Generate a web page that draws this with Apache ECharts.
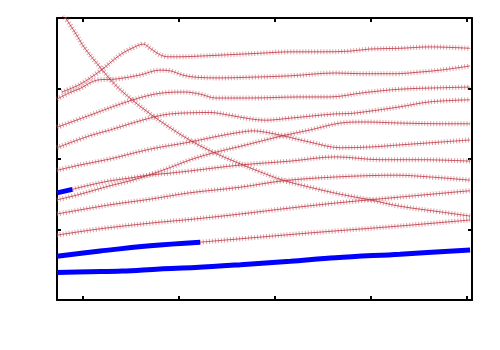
<!DOCTYPE html>
<html><head><meta charset="utf-8">
<script src="https://cdn.jsdelivr.net/npm/echarts@6/dist/echarts.min.js"></script>
<style>html,body{margin:0;padding:0;background:#fff}#c{width:500px;height:350px}</style>
</head><body><div id="c"></div>
<script>
// tick positions (path units) and energy ticks
const xTicks = [0, 1, 2, 3, 4];
const yTickStep = 1;

// bands: [k, E] pairs
const bandA = [[-0.22,2.95],[-0.03,3.06],[0.18,3.25],[0.39,3.48],[0.54,3.59],[0.63,3.63],[0.70,3.57],[0.80,3.48],[0.89,3.45],[1.01,3.45],[1.22,3.46],[1.53,3.48],[1.84,3.50],[2.16,3.52],[2.47,3.52],[2.78,3.53],[2.99,3.56],[3.30,3.57],[3.61,3.59],[4.03,3.57]];
const bandB = [[-0.27,2.85],[-0.14,2.94],[-0.03,3.00],[0.15,3.12],[0.35,3.135],[0.59,3.19],[0.80,3.26],[0.91,3.25],[1.04,3.19],[1.17,3.16],[1.43,3.15],[1.74,3.16],[2.16,3.18],[2.63,3.22],[2.89,3.21],[3.27,3.21],[3.48,3.23],[3.72,3.26],[4.03,3.32]];
const bandC = [[-0.27,2.45],[0.07,2.62],[0.39,2.78],[0.65,2.89],[0.85,2.94],[1.06,2.95],[1.22,2.92],[1.38,2.865],[1.74,2.865],[2.26,2.88],[2.57,2.88],[2.92,2.94],[3.30,2.99],[3.72,3.01],[4.03,3.02]];
const bandD = [[-0.27,2.16],[0.07,2.33],[0.28,2.41],[0.49,2.50],[0.75,2.60],[0.91,2.64],[1.11,2.655],[1.32,2.66],[1.53,2.62],[1.74,2.57],[1.90,2.55],[2.16,2.58],[2.63,2.64],[2.78,2.645],[2.94,2.67],[3.30,2.74],[3.61,2.81],[4.03,2.84]];
const bandE = [[-0.20,4.04],[-0.08,3.79],[0.02,3.57],[0.18,3.30],[0.33,3.06],[0.51,2.84],[0.70,2.64],[0.91,2.44],[1.11,2.27],[1.35,2.10],[1.64,1.93],[1.84,1.82],[2.08,1.70],[2.36,1.60],[2.68,1.50],[2.99,1.42],[3.30,1.33],[3.72,1.25],[4.03,1.19]];
const bandF = [[-0.27,1.84],[-0.03,1.915],[0.28,2.00],[0.70,2.14],[1.11,2.24],[1.43,2.33],[1.64,2.38],[1.77,2.40],[1.90,2.38],[2.08,2.33],[2.36,2.24],[2.68,2.16],[2.99,2.17],[3.30,2.20],[3.72,2.24],[4.03,2.27]];
const bandG = [[-0.27,1.52],[-0.11,1.57],[0.07,1.63],[0.28,1.69],[0.49,1.73],[0.68,1.77],[0.91,1.80],[1.11,1.83],[1.64,1.915],[2.16,1.97],[2.63,2.03],[3.09,1.99],[3.51,1.99],[4.03,1.97]];
const bandH = [[-0.27,1.42],[-0.03,1.50],[0.28,1.62],[0.49,1.69],[0.68,1.77],[0.91,1.88],[1.11,1.985],[1.35,2.085],[1.64,2.18],[2.08,2.33],[2.36,2.41],[2.68,2.51],[2.92,2.525],[3.30,2.51],[3.72,2.50],[4.03,2.50]];
const bandI = [[-0.27,1.22],[0.28,1.35],[0.70,1.43],[1.11,1.52],[1.64,1.60],[2.08,1.69],[2.63,1.745],[3.27,1.77],[3.61,1.745],[4.03,1.70]];
const bandJ = [[-0.27,0.92],[0.18,1.01],[0.70,1.09],[1.17,1.15],[1.64,1.22],[2.16,1.305],[2.63,1.375],[3.30,1.46],[4.03,1.55]];
const bandK = [[-0.27,0.62],[0.18,0.695],[0.70,0.77],[1.22,0.82],[1.74,0.88],[2.26,0.94],[2.63,0.98],[3.30,1.05],[4.03,1.135]];
const bandL = [[-0.27,0.39],[0.07,0.40],[0.41,0.41],[0.80,0.44],[1.17,0.46],[1.64,0.50],[2.16,0.55],[2.63,0.60],[3.30,0.65],[4.03,0.71]];

const bands = [bandA,bandB,bandC,bandD,bandE,bandF,bandG,bandH,bandI,bandJ,bandK,bandL];
// k up to which each band is drawn as the thick blue line (null = none)
const blueUntil = [null,null,null,null,null,null,-0.11,null,null,null,1.22,4.03];

const series = [];
bands.forEach((pts, i) => {
  const cut = blueUntil[i];
  let red = pts, blue = null;
  if (cut !== null) {
    blue = pts.filter(p => p[0] <= cut);
    red = pts.filter(p => p[0] >= cut);
  }
  if (red.length > 1) {
    series.push({type:'line', data:red, smooth:0.35, symbol:'none', silent:true, z:2,
      lineStyle:{color:'rgba(205,95,105,0.6)', width:5, type:[1,2]}});
    series.push({type:'line', data:red, smooth:0.35, symbol:'none', silent:true, z:3,
      lineStyle:{color:'rgba(185,50,62,0.8)', width:1}});
  }
  if (blue && blue.length > 1) {
    series.push({type:'line', data:blue, smooth:0.35, symbol:'none', silent:true, z:5,
      lineStyle:{color:'#0000ff', width:5}});
  }
});

const axLine = {show:true, onZero:false, lineStyle:{color:'#000', width:2}};
const tick = {show:true, inside:true, length:4, lineStyle:{color:'#000', width:2}};
const xAx = pos => ({type:'value', position:pos, min:-0.27, max:4.05,
  axisLine:axLine, axisTick:Object.assign({customValues:xTicks}, tick),
  axisLabel:{show:false}, splitLine:{show:false}});
const yAx = pos => ({type:'value', position:pos, min:0, max:4, interval:yTickStep,
  axisLine:axLine, axisTick:tick, axisLabel:{show:false}, splitLine:{show:false}});

const chart = echarts.init(document.getElementById('c'), null, {renderer:'canvas'});
chart.setOption({
  animation:false,
  grid:{left:57, right:28, top:18, bottom:50, containLabel:false},
  xAxis:[xAx('bottom'), xAx('top')],
  yAxis:[yAx('left'), yAx('right')],
  series
});
</script></body></html>
